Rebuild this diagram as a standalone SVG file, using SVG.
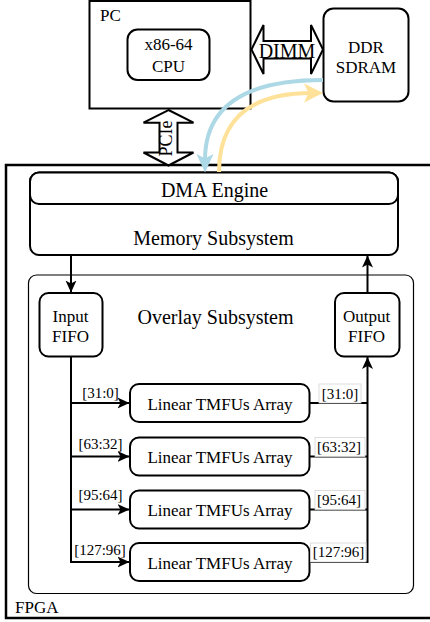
<svg xmlns="http://www.w3.org/2000/svg" width="430" height="622" viewBox="0 0 430 622">
<defs>
<style>
.box{fill:#fff;stroke:#000;stroke-width:2}
.frame{fill:none;stroke:#000;stroke-width:2}
.thin{fill:none;stroke:#000;stroke-width:1.2}
.t{font-family:"Liberation Serif","Times New Roman",serif;fill:#000}
.f17{font-size:17px}
.f20{font-size:20px}
.f15{font-size:15px}
.mid{text-anchor:middle}
.wire{fill:none;stroke:#000;stroke-width:2}
.lbl{fill:#fff;stroke:#d4d4d4;stroke-width:0.8}
.dbl{fill:#fff;stroke:#000;stroke-width:2;stroke-linejoin:miter}
</style>
<marker id="ah" markerUnits="userSpaceOnUse" viewBox="0 0 12 12" refX="12" refY="6" markerWidth="12" markerHeight="12" orient="auto">
<path d="M0,0.5 L12,6 L0,11.5 L3,6 Z" fill="#000"/>
</marker>
</defs>

<g id="fpga">
<rect class="frame" x="6" y="165" width="432" height="453" style="stroke-width:2.5"/>
<text class="t f17" x="15" y="613">FPGA</text>
</g>

<g id="pc">
<rect class="frame" x="89.5" y="1" width="161" height="107.5"/>
<text class="t f17" x="100" y="21">PC</text>
</g>

<g id="cpu">
<rect class="box" x="127.5" y="29.5" width="82" height="50.5" rx="10"/>
<text class="t f17 mid" x="168.5" y="50">x86-64</text>
<text class="t f17 mid" x="168.5" y="72">CPU</text>
</g>

<g id="ddr">
<rect class="box" x="323.5" y="8.5" width="85" height="93" rx="10"/>
<text class="t f17 mid" x="366" y="53">DDR</text>
<text class="t f17 mid" x="366" y="73">SDRAM</text>
</g>

<g id="dimm">
<polygon class="dbl" points="251.5,49.5 263.5,25 263.5,41 311,41 311,25 323,49.5 311,74 311,58.5 263.5,58.5 263.5,74"/>
<text class="t f20 mid" x="287" y="58">DIMM</text>
</g>

<g id="pcie">
<polygon class="dbl" points="168.5,110 193.5,122.7 177.5,122.7 177.5,152.5 193.5,152.5 168.5,165.5 143.5,152.5 159.5,152.5 159.5,122.7 143.5,122.7"/>
<text class="t mid" style="font-size:18px" transform="translate(172,138.5) rotate(-90)">PCIe</text>
</g>

<g id="memory">
<rect class="box" x="30" y="172.5" width="368" height="82.5" rx="9"/>
<text class="t f20 mid" x="213.5" y="245">Memory Subsystem</text>
</g>

<g id="dma">
<rect class="box" x="30" y="172.5" width="368" height="31.5" rx="9"/>
<text class="t f20 mid" x="214.5" y="196.5">DMA Engine</text>
</g>

<g id="overlay">
<rect class="thin" x="28.5" y="275" width="385" height="318.5" rx="8"/>
<text class="t f20 mid" x="215.5" y="323.5">Overlay Subsystem</text>
</g>

<g id="input-fifo">
<rect class="box" x="39.5" y="293" width="63" height="63.5" rx="9"/>
<text class="t f17 mid" x="70.5" y="321.5">Input</text>
<text class="t f17 mid" x="70.5" y="341.5">FIFO</text>
</g>

<g id="output-fifo">
<rect class="box" x="335" y="293" width="64.5" height="63.5" rx="9"/>
<text class="t f17 mid" x="366.5" y="321.5">Output</text>
<text class="t f17 mid" x="366.5" y="341.5">FIFO</text>
</g>

<g id="tmfu1">
<rect class="box" x="130" y="384" width="179.5" height="38" rx="9"/>
<text class="t f17 mid" x="220" y="410">Linear TMFUs Array</text>
</g>
<g id="tmfu2">
<rect class="box" x="130" y="437.5" width="179.5" height="38" rx="9"/>
<text class="t f17 mid" x="220" y="463">Linear TMFUs Array</text>
</g>
<g id="tmfu3">
<rect class="box" x="130" y="490.5" width="179.5" height="38" rx="9"/>
<text class="t f17 mid" x="220" y="516">Linear TMFUs Array</text>
</g>
<g id="tmfu4">
<rect class="box" x="130" y="543" width="179.5" height="38" rx="9"/>
<text class="t f17 mid" x="220" y="568.5">Linear TMFUs Array</text>
</g>

<g id="connectors">
<path class="wire" d="M71,255 V292.5" marker-end="url(#ah)"/>
<path class="wire" d="M367.5,292.5 V255.5" marker-end="url(#ah)"/>
<path class="wire" d="M71,356.5 V562 H129.5" marker-end="url(#ah)"/>
<path class="wire" d="M71,403 H129.5" marker-end="url(#ah)"/>
<path class="wire" d="M71,456.5 H129.5" marker-end="url(#ah)"/>
<path class="wire" d="M71,509.5 H129.5" marker-end="url(#ah)"/>
<path class="wire" d="M309.5,403 H367.5"/>
<path class="wire" d="M309.5,456.5 H367.5"/>
<path class="wire" d="M309.5,509.5 H367.5"/>
<path class="wire" d="M309.5,562 H367.5 V357" marker-end="url(#ah)"/>

<text class="t f15 mid" x="100.5" y="398">[31:0]</text>
<text class="t f15 mid" x="100.5" y="448.5">[63:32]</text>
<text class="t f15 mid" x="100.5" y="500">[95:64]</text>
<text class="t f15 mid" x="100" y="555">[127:96]</text>

<rect class="lbl" x="319" y="384" width="42" height="19"/>
<text class="t f15 mid" x="340" y="398.5">[31:0]</text>
<rect class="lbl" x="315" y="437.5" width="50" height="19"/>
<text class="t f15 mid" x="339" y="452">[63:32]</text>
<rect class="lbl" x="315" y="490.5" width="50" height="19"/>
<text class="t f15 mid" x="339" y="504.5">[95:64]</text>
<rect class="lbl" x="310.5" y="543" width="55.5" height="19"/>
<text class="t f15 mid" x="338.5" y="556.5">[127:96]</text>

<path d="M323,80 Q205,80 205,160" fill="none" stroke="#add8e6" stroke-width="4"/>
<polygon points="205,172.5 196.5,154 205,158.5 213.5,154" fill="#add8e6"/>
<path d="M219,172 Q219,93 312,93" fill="none" stroke="#ffe29a" stroke-width="4"/>
<polygon points="323,93 304,83.5 308.5,93 304,102.5" fill="#ffe29a"/>
</g>
</svg>
